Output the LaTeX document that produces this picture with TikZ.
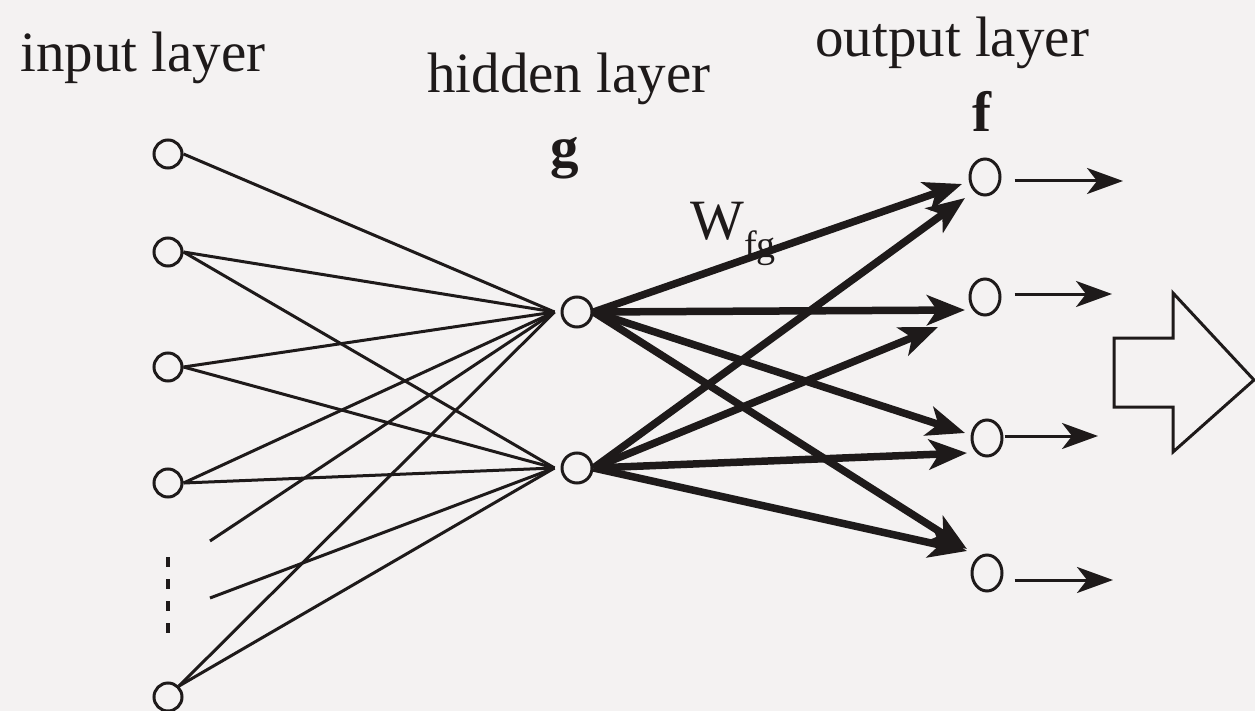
\documentclass[tikz,border=0pt]{standalone}
\usepackage{fontspec}
\setmainfont{Liberation Serif}
\usetikzlibrary{arrows.meta,shapes.geometric}
\definecolor{bg}{HTML}{F4F2F2}
\definecolor{ink}{HTML}{1E1A1A}
\begin{document}
\begin{tikzpicture}[x=1pt,y=-1pt,
  inode/.style={circle,draw=ink,line width=3pt,minimum size=28pt,inner sep=0pt,fill=bg},
  hnode/.style={circle,draw=ink,line width=3pt,minimum size=30pt,inner sep=0pt,fill=bg},
  onode/.style={ellipse,draw=ink,line width=3pt,minimum width=30pt,minimum height=36pt,inner sep=0pt,fill=bg},
  thinline/.style={draw=ink,line width=3pt},
  thickarrow/.style={draw=ink,line width=7.5pt,-{Stealth[length=38pt,width=30pt,inset=10pt]}},
  outarrow/.style={draw=ink,line width=3pt,-{Stealth[length=36pt,width=26pt,inset=10pt]}},
  lbl/.style={font=\fontsize{57}{60}\selectfont,text=ink,inner sep=0pt}
]
\fill[bg] (0,0) rectangle (1255,711);
\useasboundingbox (0,0) rectangle (1255,711);

% labels
\node[lbl,anchor=base west] (tin) at (20,72) {input layer};
\node[lbl,anchor=base west] (thid) at (427,93) {hidden layer};
\node[lbl,anchor=base west] (tout) at (815,57) {output layer};
\node[lbl,anchor=base,font=\fontsize{57}{60}\selectfont\bfseries] (tg) at (565,167) {g};
\node[lbl,anchor=base,font=\fontsize{57}{60}\selectfont\bfseries] (tf) at (982,132) {f};
\node[lbl,anchor=base west] (tw) at (690,240) {W\raisebox{-18pt}{\fontsize{38}{40}\selectfont fg}};

% nodes
\node[inode] (i1) at (168,154) {};
\node[inode] (i2) at (168,252) {};
\node[inode] (i3) at (168,367) {};
\node[inode] (i4) at (168,483) {};
\node[inode] (i5) at (168,697) {};
\node[hnode] (h1) at (577,312) {};
\node[hnode] (h2) at (577,468) {};
\node[onode] (o1) at (985,177) {};
\node[onode] (o2) at (985,297) {};
\node[onode] (o3) at (987,438) {};
\node[onode] (o4) at (987,573) {};

% free ends
\coordinate (p1) at (210,541);
\coordinate (p2) at (210,598);
\coordinate (d1) at (168,557);
\coordinate (d2) at (168,635);
\coordinate (t11) at (962,184);
\coordinate (t21) at (965,198);
\coordinate (t12) at (965,310);
\coordinate (t22) at (938,327);
\coordinate (t13) at (965,433);
\coordinate (t23) at (967,453);
\coordinate (t14) at (967,549);
\coordinate (t24) at (967,551);
\coordinate (e1) at (1123,181);
\coordinate (e2) at (1112,294);
\coordinate (e3) at (1098,436);
\coordinate (e4) at (1113,580);

% input -> hidden
\draw[thinline] (i1.east) -- ([xshift=-6pt]h1.west);
\draw[thinline] (i2.east) -- ([xshift=-6pt]h1.west);
\draw[thinline] (i2.east) -- ([xshift=-6pt]h2.west);
\draw[thinline] (i3.east) -- ([xshift=-6pt]h1.west);
\draw[thinline] (i3.east) -- ([xshift=-6pt]h2.west);
\draw[thinline] (i4.east) -- ([xshift=-6pt]h1.west);
\draw[thinline] (i4.east) -- ([xshift=-6pt]h2.west);
\draw[thinline] (p1) -- ([xshift=-6pt]h1.west);
\draw[thinline] (p2) -- ([xshift=-6pt]h2.west);
\draw[thinline] (i5.north east) -- ([xshift=-6pt]h1.west);
\draw[thinline] (i5.north east) -- ([xshift=-6pt]h2.west);
\draw[ink,line width=3.5pt,dash pattern=on 10pt off 12pt] (d1) -- (d2);

% hidden -> output
\draw[thickarrow] (h1.east) -- (t11);
\draw[thickarrow] (h2.east) -- (t21);
\draw[thickarrow] (h1.east) -- (t12);
\draw[thickarrow] (h2.east) -- (t22);
\draw[thickarrow] (h1.east) -- (t13);
\draw[thickarrow] (h2.east) -- (t23);
\draw[thickarrow] (h1.east) -- (t14);
\draw[thickarrow] (h2.east) -- (t24);

% output arrows
\draw[outarrow] ([xshift=13pt,yshift=-4pt]o1.east) -- (e1);
\draw[outarrow] ([xshift=13pt,yshift=3pt]o2.east) -- (e2);
\draw[outarrow] ([xshift=1pt,yshift=2pt]o3.east) -- (e3);
\draw[outarrow] ([xshift=11pt,yshift=-7pt]o4.east) -- (e4);

% block arrow
\draw[ink,line width=3pt,line join=miter] (1114,338) -- (1173,338) -- (1173,293) -- (1254,380) -- (1173,452) -- (1173,407) -- (1114,407) -- cycle;
\end{tikzpicture}
\end{document}
